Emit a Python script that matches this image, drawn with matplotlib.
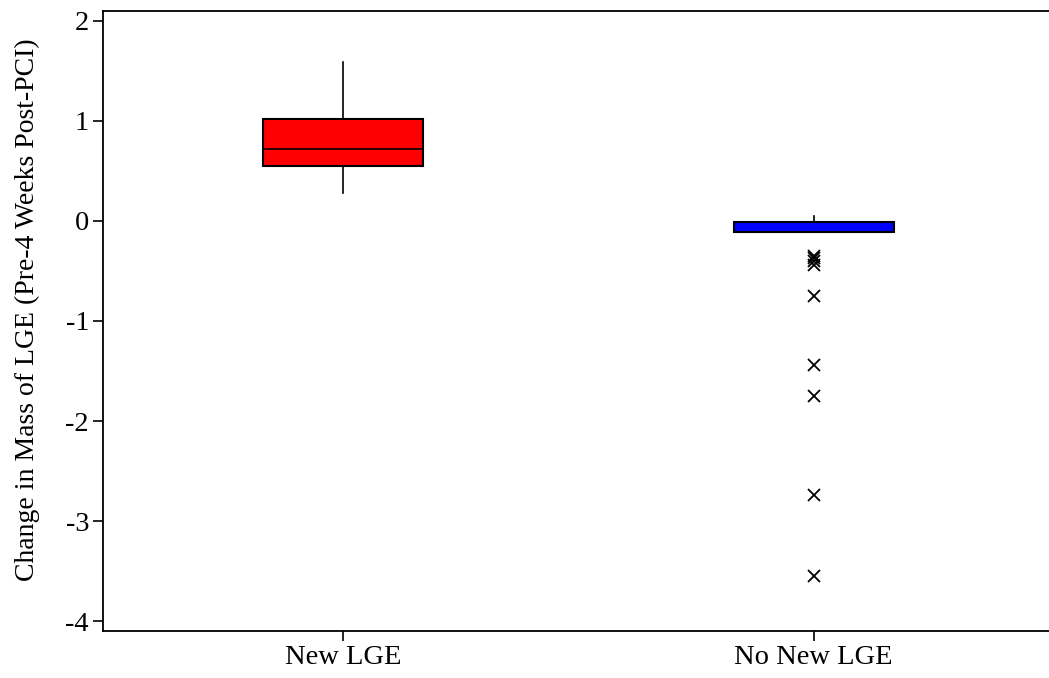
import matplotlib
matplotlib.use("Agg")
import matplotlib.pyplot as plt

groups = ["New LGE", "No New LGE"]
colors = ["#ff0000", "#0000ff"]

# box statistics
q1 = [0.55, -0.11]
median = [0.72, -0.11]
q3 = [1.02, -0.01]
whislo = [0.28, -0.11]
whishi = [1.59, 0.05]
fliers = [[], [-0.35, -0.37, -0.40, -0.44, -0.75, -1.44, -1.75, -2.74, -3.55]]

plt.rcParams["font.family"] = ["Liberation Serif", "DejaVu Serif"]
plt.rcParams["axes.unicode_minus"] = False

stats = []
for i, g in enumerate(groups):
    stats.append(dict(label=g, q1=q1[i], med=median[i], q3=q3[i],
                      whislo=whislo[i], whishi=whishi[i], fliers=fliers[i]))

fig = plt.figure(figsize=(10.49, 6.78), dpi=100)
ax = fig.add_axes([0.0982, 0.0693, 0.9018, 0.9145])

bp = ax.bxp(stats, positions=[1, 2], widths=0.34, patch_artist=True, showcaps=False,
            boxprops=dict(linewidth=1.5, edgecolor="black"),
            medianprops=dict(color="black", linewidth=1.2),
            whiskerprops=dict(color="black", linewidth=1.2),
            flierprops=dict(marker="x", markeredgecolor="black", markersize=9, markeredgewidth=1.3))
for patch, c in zip(bp["boxes"], colors):
    patch.set_facecolor(c)

ax.set_xlim(0.49, 2.5)
ax.set_ylim(-4.1, 2.1)
ax.set_yticks([2, 1, 0, -1, -2, -3, -4])
ax.set_xticks([1, 2])
ax.set_xticklabels(groups)
ax.spines["right"].set_visible(False)
for s in ["left", "bottom", "top"]:
    ax.spines[s].set_linewidth(1.3)
ax.tick_params(axis="both", labelsize=20.5, length=7, width=1.2, direction="out", pad=3)
ax.set_ylabel("Change in Mass of LGE (Pre-4 Weeks Post-PCI)", fontsize=20)
ax.yaxis.set_label_coords(-0.067, 0.518)

plt.savefig("out.png", dpi=100)
